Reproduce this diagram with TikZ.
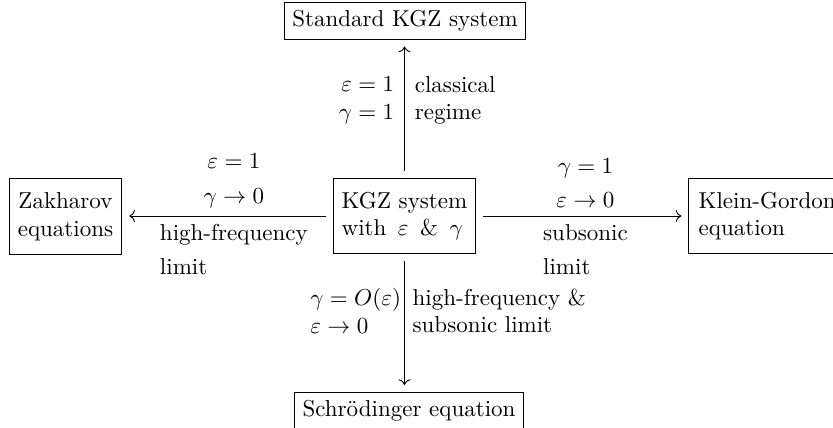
\documentclass[tikz,border=0pt]{standalone}
\usepackage{amsmath,amssymb}
\usepackage{tikz}
\usetikzlibrary{positioning, arrows.meta}
\tikzset{
  sysbox/.style={draw, thin, inner sep=3.33pt},
  sysboxtwo/.style={sysbox, minimum height=33pt},
  limarr/.style={-{Computer Modern Rightarrow}, thin, shorten <=3pt, shorten >=3pt},
  limlabel/.style={inner sep=3.33pt},
}

\begin{document}
\begin{tikzpicture}[x=0.43478pt, y=-0.43478pt]
    \clip (0,0) rectangle (833,428);
    % the general system in the middle
    \node[sysboxtwo, minimum width=62pt, align=left] (kgz) at (404.5,216) {KGZ system\\with \,$\varepsilon$ \,\& \,$\gamma$};
    % the four limit systems
    \node[sysbox] (std) at (405,21) {Standard KGZ system};
    \node[sysboxtwo, minimum width=49pt, align=center] (zak) at (65.5,216.5) {Zakharov\\equations};
    \node[sysboxtwo, anchor=west, inner xsep=4.3pt, align=left] (kg) at (688.3,216) {Klein-Gordon\\equation};
    \node[sysbox] (nls) at (409,410.5) {Schr\"odinger equation};
    % arrows with their conditions
    \draw[limarr] (kgz.north) -- (kgz.north |- std.south)
      node[limlabel, inner xsep=4.3pt, pos=0.56, left, align=right] (upL) {$\varepsilon=1$\\$\gamma=1$}
      node[limlabel, inner xsep=4.3pt, pos=0.56, right, align=left] (upR) {classical\\regime};
    \draw[limarr] (kgz.west) -- (kgz.west -| zak.east)
      node[limlabel, pos=0.47, above, align=center] (leftA) {$\varepsilon=1$\\[3pt]$\gamma\to0$}
      node[limlabel, pos=0.47, below, align=left] (leftB) {high-frequency\\[3pt]limit};
    \draw[limarr] (kgz.east) -- (kgz.east -| kg.west)
      node[limlabel, pos=0.515, above, align=center] (rightA) {$\gamma=1$\\[3pt]$\varepsilon\to0$}
      node[limlabel, pos=0.515, below, align=left] (rightB) {subsonic\\[3pt]limit};
    \draw[limarr] (kgz.south) -- (kgz.south |- nls.north)
      node[limlabel, pos=0.41, left, xshift=2pt, align=left] (downL) {$\gamma=O(\varepsilon)$\\$\varepsilon\to0$}
      node[limlabel, pos=0.41, right, align=left] (downR) {high-frequency \&\\subsonic limit};
\end{tikzpicture}
\end{document}
